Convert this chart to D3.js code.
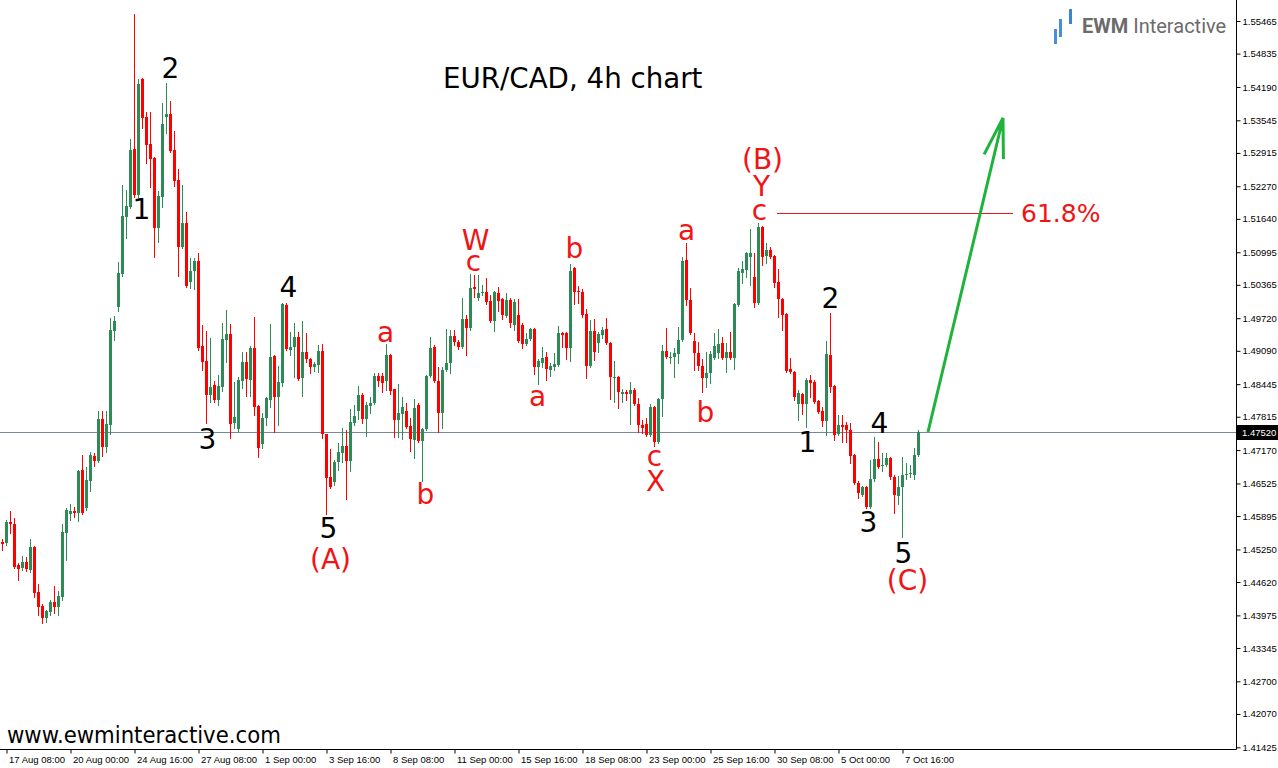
<!DOCTYPE html>
<html>
<head>
<meta charset="utf-8">
<script src="https://cdn.jsdelivr.net/npm/d3@7"></script>
<style>
  html, body { margin: 0; padding: 0; background: #fff; }
  svg { display: block; }
</style>
</head>
<body>
<svg id="chart" width="1278" height="768"></svg>
<script>
// EUR/CAD 4-hour candles, 17 Aug 04:00 – 8 Oct 08:00
const opens = [
1.4539,1.4538,1.4578,1.4574,1.4495,1.4489,1.4501,1.4485,1.4530,1.4443,
1.4416,1.4393,1.4404,1.4423,1.4414,1.4433,1.4557,1.4594,1.4599,1.4595,
1.4679,1.4605,1.4657,1.4706,1.4696,1.4777,1.4723,1.4766,1.4947,1.4994,
1.5058,1.5168,1.5187,1.5299,1.5210,1.5434,1.5361,1.5309,1.5282,1.5146,
1.5206,1.5361,1.5367,1.5297,1.5239,1.5110,1.5156,1.5042,1.5063,1.5083,
1.4918,1.4889,1.4824,1.4843,1.4814,1.4839,1.4930,1.4942,1.4769,1.4758,
1.4851,1.4887,1.4853,1.4914,1.4802,1.4729,1.4779,1.4814,1.4899,1.4820,
1.4847,1.4998,1.4911,1.4916,1.4936,1.4856,1.4907,1.4893,1.4878,1.4882,
1.4909,1.4748,1.4665,1.4655,1.4694,1.4712,1.4725,1.4696,1.4769,1.4793,
1.4824,1.4777,1.4802,1.4808,1.4860,1.4860,1.4851,1.4901,1.4835,1.4775,
1.4787,1.4793,1.4764,1.4737,1.4804,1.4735,1.4758,1.4860,1.4916,1.4851,
1.4789,1.4872,1.4885,1.4938,1.4926,1.4916,1.4970,1.4953,1.5032,1.5011,
1.5021,1.5023,1.5005,1.4967,1.5021,1.5009,1.4976,1.5007,1.4959,1.4978,
1.4959,1.4922,1.4932,1.4951,1.4878,1.4885,1.4897,1.4872,1.4878,1.4882,
1.4943,1.4943,1.4914,1.5069,1.5025,1.5023,1.4980,1.4880,1.4947,1.4924,
1.4940,1.4951,1.4924,1.4856,1.4858,1.4826,1.4829,1.4826,1.4833,1.4806,
1.4766,1.4768,1.4746,1.4800,1.4733,1.4816,1.4909,1.4895,1.4897,1.4903,
1.4930,1.5085,1.5007,1.4928,1.4905,1.4880,1.4856,1.4866,1.4895,1.4905,
1.4924,1.4895,1.4907,1.4895,1.4998,1.5059,1.5065,1.5090,1.5052,1.5001,
1.5148,1.5092,1.5104,1.5092,1.5042,1.5009,1.4980,1.4874,1.4868,1.4806,
1.4826,1.4806,1.4853,1.4849,1.4812,1.4793,1.4773,1.4901,1.4841,1.4748,
1.4766,1.4766,1.4756,1.4708,1.4654,1.4630,1.4646,1.4607,1.4661,1.4700,
1.4686,1.4688,1.4702,1.4665,1.4628,1.4646,1.4669,1.4671,1.4669,1.4708
];
const highs = [
1.4545,1.4582,1.4599,1.4586,1.4499,1.4512,1.4511,1.4545,1.4532,1.4458,
1.4420,1.4408,1.4427,1.4454,1.4445,1.4574,1.4605,1.4613,1.4607,1.4679,
1.4708,1.4684,1.4713,1.4712,1.4793,1.4793,1.4793,1.4972,1.4976,1.5081,
1.5230,1.5220,1.5318,1.5560,1.5434,1.5436,1.5371,1.5371,1.5284,1.5218,
1.5388,1.5427,1.5392,1.5334,1.5260,1.5230,1.5177,1.5088,1.5088,1.5098,
1.4959,1.4947,1.4934,1.4851,1.4862,1.4963,1.4988,1.4961,1.4849,1.4858,
1.4907,1.4907,1.4918,1.4974,1.4804,1.4789,1.4820,1.4961,1.4901,1.4880,
1.5001,1.5001,1.4945,1.4963,1.4945,1.4967,1.4943,1.4895,1.4887,1.4920,
1.4922,1.4748,1.4719,1.4698,1.4731,1.4760,1.4756,1.4797,1.4804,1.4841,
1.4828,1.4810,1.4820,1.4866,1.4866,1.4866,1.4922,1.4903,1.4835,1.4845,
1.4820,1.4808,1.4779,1.4816,1.4808,1.4760,1.4862,1.4936,1.4920,1.4878,
1.4878,1.4951,1.4949,1.4949,1.4930,1.5011,1.4978,1.5058,1.5056,1.5056,
1.5036,1.5050,1.5017,1.5025,1.5032,1.5011,1.5021,1.5011,1.5009,1.5009,
1.4963,1.4943,1.4953,1.4953,1.4893,1.4916,1.4907,1.4885,1.4905,1.4957,
1.4945,1.4945,1.5077,1.5071,1.5034,1.5028,1.4990,1.4969,1.4970,1.4945,
1.4955,1.4972,1.4926,1.4889,1.4860,1.4835,1.4833,1.4849,1.4837,1.4818,
1.4775,1.4779,1.4806,1.4802,1.4818,1.4920,1.4953,1.4907,1.4914,1.4955,
1.5090,1.5118,1.5030,1.4943,1.4926,1.4893,1.4907,1.4909,1.4943,1.4951,
1.4936,1.4924,1.4945,1.5001,1.5069,1.5083,1.5100,1.5144,1.5098,1.5156,
1.5150,1.5118,1.5110,1.5094,1.5067,1.5011,1.4982,1.4895,1.4870,1.4833,
1.4828,1.4856,1.4862,1.4853,1.4814,1.4800,1.4928,1.4982,1.4843,1.4785,
1.4785,1.4771,1.4769,1.4710,1.4657,1.4648,1.4648,1.4698,1.4742,1.4733,
1.4712,1.4712,1.4704,1.4669,1.4667,1.4704,1.4692,1.4688,1.4721,1.4756
];
const lows = [
1.4524,1.4534,1.4557,1.4489,1.4466,1.4485,1.4483,1.4481,1.4433,1.4398,
1.4383,1.4385,1.4398,1.4402,1.4398,1.4427,1.4505,1.4582,1.4588,1.4580,
1.4594,1.4601,1.4638,1.4686,1.4694,1.4706,1.4713,1.4748,1.4930,1.4986,
1.5054,1.5127,1.5185,1.5206,1.5206,1.5340,1.5272,1.5226,1.5090,1.5119,
1.5187,1.5330,1.5293,1.5228,1.5054,1.5108,1.5032,1.5030,1.5028,1.4911,
1.4872,1.4769,1.4810,1.4810,1.4804,1.4831,1.4887,1.4740,1.4760,1.4754,
1.4837,1.4822,1.4822,1.4785,1.4704,1.4721,1.4766,1.4800,1.4752,1.4766,
1.4841,1.4911,1.4901,1.4858,1.4853,1.4822,1.4887,1.4866,1.4870,1.4868,
1.4740,1.4594,1.4644,1.4650,1.4679,1.4694,1.4623,1.4677,1.4766,1.4777,
1.4769,1.4744,1.4789,1.4806,1.4841,1.4829,1.4833,1.4826,1.4742,1.4742,
1.4739,1.4760,1.4715,1.4702,1.4733,1.4657,1.4756,1.4858,1.4849,1.4752,
1.4760,1.4870,1.4866,1.4920,1.4912,1.4914,1.4901,1.4949,1.5013,1.5007,
1.5017,1.4999,1.4965,1.4947,1.4986,1.4970,1.4974,1.4955,1.4949,1.4926,
1.4914,1.4920,1.4930,1.4864,1.4845,1.4878,1.4853,1.4860,1.4872,1.4880,
1.4916,1.4893,1.4889,1.4999,1.5001,1.4974,1.4856,1.4878,1.4891,1.4907,
1.4934,1.4922,1.4816,1.4810,1.4798,1.4810,1.4814,1.4768,1.4804,1.4752,
1.4750,1.4744,1.4744,1.4725,1.4731,1.4783,1.4895,1.4885,1.4858,1.4885,
1.4928,1.4998,1.4941,1.4872,1.4872,1.4829,1.4839,1.4847,1.4893,1.4895,
1.4893,1.4868,1.4893,1.4874,1.4996,1.5040,1.5052,1.5036,1.4994,1.4999,
1.5075,1.5079,1.5088,1.5032,1.4974,1.4949,1.4868,1.4866,1.4814,1.4775,
1.4787,1.4762,1.4820,1.4808,1.4789,1.4764,1.4746,1.4829,1.4737,1.4746,
1.4733,1.4733,1.4692,1.4652,1.4624,1.4628,1.4605,1.4605,1.4657,1.4682,
1.4677,1.4686,1.4661,1.4595,1.4613,1.4549,1.4661,1.4665,1.4661,1.4706
];
const closes = [
1.4536,1.4578,1.4574,1.4491,1.4487,1.4501,1.4487,1.4530,1.4441,1.4414,
1.4393,1.4406,1.4423,1.4414,1.4435,1.4559,1.4601,1.4599,1.4595,1.4677,
1.4595,1.4659,1.4708,1.4696,1.4777,1.4723,1.4768,1.4949,1.4967,1.5059,
1.5170,1.5189,1.5297,1.5210,1.5425,1.5359,1.5307,1.5280,1.5146,1.5208,
1.5347,1.5367,1.5295,1.5237,1.5110,1.5156,1.5034,1.5063,1.5083,1.4914,
1.4887,1.4824,1.4839,1.4814,1.4841,1.4932,1.4942,1.4768,1.4781,1.4853,
1.4887,1.4855,1.4914,1.4800,1.4721,1.4779,1.4818,1.4897,1.4820,1.4849,
1.4999,1.4912,1.4916,1.4936,1.4855,1.4907,1.4893,1.4878,1.4884,1.4909,
1.4748,1.4663,1.4646,1.4694,1.4713,1.4725,1.4696,1.4771,1.4783,1.4824,
1.4777,1.4804,1.4808,1.4860,1.4851,1.4847,1.4901,1.4831,1.4775,1.4789,
1.4800,1.4762,1.4739,1.4798,1.4735,1.4758,1.4860,1.4914,1.4851,1.4789,
1.4872,1.4885,1.4938,1.4926,1.4916,1.4970,1.4953,1.5030,1.5028,1.5021,
1.5023,1.5003,1.4967,1.5023,1.5005,1.4978,1.5007,1.4963,1.5003,1.4928,
1.4922,1.4932,1.4951,1.4878,1.4889,1.4895,1.4874,1.4880,1.4884,1.4943,
1.4940,1.4914,1.5063,1.5023,1.5023,1.4978,1.4880,1.4947,1.4907,1.4942,
1.4949,1.4924,1.4858,1.4858,1.4829,1.4829,1.4826,1.4833,1.4806,1.4766,
1.4760,1.4746,1.4800,1.4733,1.4816,1.4909,1.4897,1.4897,1.4905,1.4930,
1.5083,1.5007,1.4943,1.4905,1.4880,1.4856,1.4866,1.4903,1.4918,1.4922,
1.4895,1.4907,1.4895,1.4999,1.5063,1.5067,1.5098,1.5098,1.5001,1.5148,
1.5090,1.5104,1.5090,1.5040,1.5009,1.4978,1.4870,1.4868,1.4820,1.4828,
1.4806,1.4853,1.4847,1.4810,1.4791,1.4773,1.4903,1.4839,1.4746,1.4766,
1.4762,1.4756,1.4706,1.4654,1.4634,1.4646,1.4607,1.4661,1.4700,1.4684,
1.4688,1.4702,1.4665,1.4630,1.4646,1.4669,1.4671,1.4673,1.4708,1.4752
];

// Time axis: candle index of each label and its text
const timeTickIndex = [1, 17, 33, 49, 65, 81, 97, 113, 129, 145, 161, 177, 193, 209, 225];
const timeTickText = ["17 Aug 08:00", "20 Aug 00:00", "24 Aug 16:00", "27 Aug 08:00", "1 Sep 00:00",
  "3 Sep 16:00", "8 Sep 08:00", "11 Sep 00:00", "15 Sep 16:00", "18 Sep 08:00", "23 Sep 00:00",
  "25 Sep 16:00", "30 Sep 08:00", "5 Oct 00:00", "7 Oct 16:00"];

// Price scale labels
const priceTicks = [1.55465, 1.54835, 1.54190, 1.53545, 1.52915, 1.52270, 1.51640, 1.50995,
  1.50365, 1.49720, 1.49090, 1.48445, 1.47815, 1.47170, 1.46525, 1.45895, 1.45250, 1.44620,
  1.43975, 1.43345, 1.42700, 1.42070, 1.41425];
const lastPrice = 1.47520;

// Elliott wave counts: text, candle index, price
const impulseText  = ["1", "2", "3", "4", "5", "1", "2", "3", "4", "5"];
const impulseIndex = [34.75, 42, 51.25, 71.5, 81.5, 201.25, 207, 216.5, 219.25, 225.25];
const impulsePrice = [1.5183, 1.5454, 1.4737, 1.5032, 1.4565, 1.4731, 1.5011, 1.4578, 1.4768, 1.4518];

const correctiveText  = ["(A)", "a", "b", "W", "c", "a", "b", "c", "X", "a", "b", "(B)", "Y", "c", "(C)"];
const correctiveIndex = [82, 95.75, 105.75, 118.25, 117.75, 133.75, 143, 163, 163.25, 171, 175.75, 190, 189.75, 189.25, 226.25];
const correctivePrice = [1.4505, 1.4945, 1.4632, 1.5123, 1.5081, 1.4820, 1.5106, 1.4704, 1.4657, 1.5141, 1.4789, 1.5278, 1.5226, 1.5181, 1.4464];

// Fibonacci target and projected move
const fibPrice = 1.5175;
const fibStartIndex = 193.75;
const fibEndIndex = 252.75;
const fibText = "61.8%";
const arrowStart = [231.5, 1.4752];
const arrowEnd = [250.25, 1.5359];

const svg = d3.select("#chart");
const plotRight = 1236;
const plotBottom = 749;

const x = d3.scaleLinear().domain([0, 229]).range([2, 2 + 4 * 229]);
const y = d3.scaleLinear().domain([1.41425, 1.55465]).range([747.3, 21.0]);

const bull = "#2e8b57", bear = "#ff0000";

// current price line
const yLast = Math.round(y(lastPrice)) + 0.5;
svg.append("line")
  .attr("x1", 0).attr("x2", plotRight).attr("y1", yLast).attr("y2", yLast)
  .attr("stroke", "#778899").attr("stroke-width", 1);

// candles
const candles = d3.range(opens.length).map(i => ({
  i, o: opens[i], h: highs[i], l: lows[i], c: closes[i]
}));
const cg = svg.append("g");
cg.selectAll("rect.wick").data(candles).join("rect")
  .attr("class", "wick")
  .attr("x", d => x(d.i))
  .attr("width", 1)
  .attr("y", d => Math.round(y(d.h)))
  .attr("height", d => Math.round(y(d.l)) - Math.round(y(d.h)) + 1)
  .attr("fill", d => d.c >= d.o ? bull : bear);
cg.selectAll("rect.body").data(candles).join("rect")
  .attr("class", "body")
  .attr("x", d => x(d.i) - 1)
  .attr("width", 3)
  .attr("y", d => Math.round(y(Math.max(d.o, d.c))))
  .attr("height", d => Math.max(1, Math.round(y(Math.min(d.o, d.c))) - Math.round(y(Math.max(d.o, d.c)))))
  .attr("fill", d => d.c >= d.o ? bull : bear);

// frame lines
svg.append("line").attr("x1", plotRight + 0.5).attr("x2", plotRight + 0.5)
  .attr("y1", 0).attr("y2", plotBottom + 0.5).attr("stroke", "#000");
svg.append("line").attr("x1", 0).attr("x2", plotRight + 0.5)
  .attr("y1", plotBottom + 0.5).attr("y2", plotBottom + 0.5).attr("stroke", "#000");

// price axis
const yAxis = d3.axisRight(y)
  .tickValues(priceTicks)
  .tickFormat(d3.format(".5f"))
  .tickSize(4)
  .tickSizeOuter(0)
  .tickPadding(2);
const ya = svg.append("g").attr("transform", `translate(${plotRight + 0.5},0)`).call(yAxis);
ya.select(".domain").remove();
ya.selectAll("text").attr("font-family", "Liberation Sans, Arial, sans-serif")
  .attr("font-size", "9.5px").attr("fill", "#000");
ya.selectAll("line").attr("stroke", "#000");

// time axis
const xAxis = d3.axisBottom(x)
  .tickValues(timeTickIndex)
  .tickFormat((d, k) => timeTickText[k])
  .tickSize(4)
  .tickSizeOuter(0);
const xa = svg.append("g").attr("transform", `translate(0.5,${plotBottom + 0.5})`).call(xAxis);
xa.select(".domain").remove();
xa.selectAll("line").attr("stroke", "#000");
xa.selectAll("text")
  .attr("text-anchor", "start")
  .attr("x", 2).attr("y", 13).attr("dy", null)
  .attr("font-family", "Liberation Sans, Arial, sans-serif")
  .attr("font-size", "9.5px").attr("fill", "#000");

// last price tag
svg.append("rect").attr("x", plotRight + 1).attr("y", Math.round(y(lastPrice)) - 7)
  .attr("width", 42).attr("height", 15).attr("fill", "#000");
svg.append("text").attr("x", plotRight + 6).attr("y", y(lastPrice))
  .attr("dominant-baseline", "central")
  .attr("font-family", "Liberation Sans, Arial, sans-serif").attr("font-size", "9.5px")
  .attr("fill", "#fff").text(d3.format(".5f")(lastPrice));

// wave labels
const labelFont = "DejaVu Sans, Verdana, sans-serif";
svg.append("g").selectAll("text").data(impulseText).join("text")
  .attr("x", (d, k) => x(impulseIndex[k]) + 0.5)
  .attr("y", (d, k) => y(impulsePrice[k]))
  .attr("text-anchor", "middle").attr("dominant-baseline", "central")
  .attr("font-family", labelFont).attr("font-size", "28px").attr("fill", "#000")
  .text(d => d);
svg.append("g").selectAll("text").data(correctiveText).join("text")
  .attr("x", (d, k) => x(correctiveIndex[k]) + 0.5)
  .attr("y", (d, k) => y(correctivePrice[k]))
  .attr("text-anchor", "middle").attr("dominant-baseline", "central")
  .attr("font-family", labelFont).attr("font-size", "28px").attr("fill", "#f01414")
  .text(d => d);

// 61.8% level
const yFib = Math.round(y(fibPrice)) + 0.5;
svg.append("line").attr("x1", x(fibStartIndex)).attr("x2", x(fibEndIndex))
  .attr("y1", yFib).attr("y2", yFib).attr("stroke", "#f01414").attr("stroke-width", 1);
svg.append("text").attr("x", x(fibEndIndex) + 8).attr("y", y(fibPrice))
  .attr("dominant-baseline", "central")
  .attr("font-family", labelFont).attr("font-size", "25px").attr("fill", "#f01414")
  .text(fibText);

// projected move arrow
const ax0 = x(arrowStart[0]), ay0 = y(arrowStart[1]);
const ax1 = x(arrowEnd[0]), ay1 = y(arrowEnd[1]);
const ang = Math.atan2(ay0 - ay1, ax0 - ax1);
const headLen = 41, spread = 14 * Math.PI / 180;
const arrowPath = d3.path();
arrowPath.moveTo(ax0, ay0); arrowPath.lineTo(ax1, ay1);
arrowPath.moveTo(ax1 + headLen * Math.cos(ang + spread), ay1 + headLen * Math.sin(ang + spread));
arrowPath.lineTo(ax1, ay1);
arrowPath.lineTo(ax1 + headLen * Math.cos(ang - spread), ay1 + headLen * Math.sin(ang - spread));
svg.append("path").attr("d", arrowPath.toString())
  .attr("fill", "none").attr("stroke", "#1fb33c").attr("stroke-width", 3)
  .attr("stroke-linejoin", "miter");

// title
svg.append("text").attr("x", 443).attr("y", 88)
  .attr("font-family", labelFont).attr("font-size", "27.7px").attr("fill", "#000")
  .text("EUR/CAD, 4h chart");

// site address
svg.append("text").attr("x", 7).attr("y", 743)
  .attr("font-family", "DejaVu Sans Condensed, DejaVu Sans, sans-serif")
  .attr("font-stretch", "condensed")
  .attr("font-size", "23.6px").attr("fill", "#000")
  .text("www.ewminteractive.com");

// brand mark
const logo = svg.append("g");
logo.append("rect").attr("x", 1054).attr("y", 29).attr("width", 3).attr("height", 15).attr("fill", "#4a8fd6");
logo.append("rect").attr("x", 1059).attr("y", 19).attr("width", 3).attr("height", 18).attr("fill", "#4a8fd6");
logo.append("rect").attr("x", 1069).attr("y", 9).attr("width", 3).attr("height", 15).attr("fill", "#3a85d2");
const logoText = logo.append("text").attr("x", 1082).attr("y", 33)
  .attr("font-family", "Roboto, sans-serif").attr("font-size", "20px").attr("fill", "#6b6b6b");
logoText.append("tspan").attr("font-weight", 700).text("EWM");
logoText.append("tspan").attr("font-weight", 400).text(" Interactive");
</script>
</body>
</html>
